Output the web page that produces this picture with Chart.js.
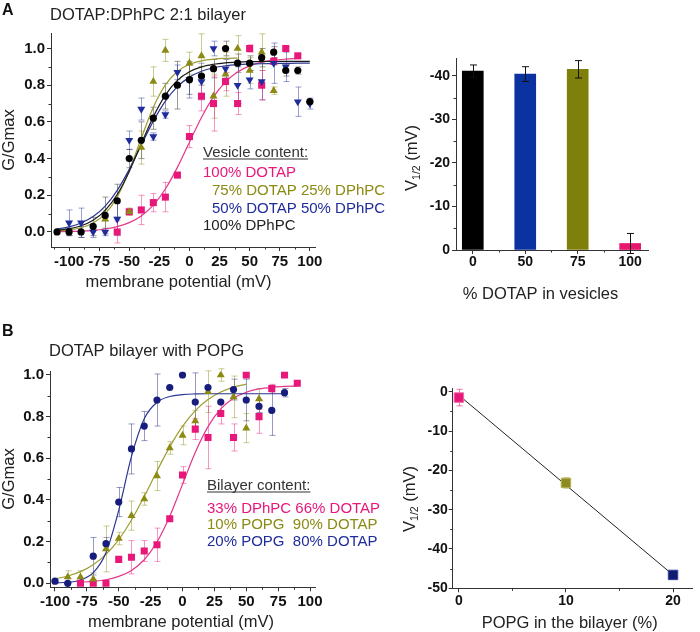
<!DOCTYPE html>
<html>
<head>
<meta charset="utf-8">
<script src="https://cdn.jsdelivr.net/npm/chart.js@4.4.1/dist/chart.umd.min.js"></script>
<style>
  html, body { margin: 0; padding: 0; background: #fff; }
  #wrap { position: relative; width: 700px; height: 632px; overflow: hidden; }
  #wrap canvas { position: absolute; left: 0; top: 0; }
</style>
</head>
<body>
<div id="wrap">
  <canvas id="aCurve" width="700" height="632"></canvas>
  <canvas id="aBar" width="700" height="632"></canvas>
  <canvas id="bCurve" width="700" height="632"></canvas>
  <canvas id="bLine" width="700" height="632"></canvas>
</div>
<script>
// ---- panel A, conductance vs voltage ----
const voltsA = [-110,-100,-90,-80,-70,-60,-50,-40,-30,-20,-10,0,10,20,30,40,50,60,70,80,90,100];
const dphpcA      = [0.00,0.00,0.00,0.03,0.09,0.17,0.40,0.50,0.62,0.74,0.80,0.83,0.85,0.89,1.00,0.92,0.92,0.95,0.98,0.88,0.88,0.71];
const dphpcErrA   = [0.01,0.02,0.03,0.05,0.10,0.09,0.05,0.10,0.06,0.07,0.13,0.08,0.05,0.05,0.04,0.05,0.04,0.05,0.03,0.03,0.02,0.01];
const dotap50A    = [null,0.05,0.05,0.00,0.00,0.07,0.50,0.67,0.52,0.64,0.87,0.83,0.82,1.00,0.89,0.80,0.83,0.82,0.92,0.90,0.71,0.70];
const dotap50ErrA = [0,0.07,0.08,0.03,0.02,0.09,0.05,0.06,0.02,0.02,0.04,0.10,0.10,0.04,0.05,0.10,0.05,0.10,0.11,0.08,0.08,0.03];
const dotap75A    = [null,null,null,null,0.07,null,0.11,0.46,0.82,0.99,null,0.92,0.96,0.74,0.86,1.00,0.88,0.98,0.77,null,null,null];
const dotap75ErrA = [0,0,0,0,0.05,0,0.02,0.09,0.08,0.06,0,0.06,0.12,0.12,0.12,0.07,0.07,0.10,0.02,0,0,0];
const dotap100A   = [null,null,null,null,null,0.00,0.11,0.12,0.16,0.19,0.31,0.52,0.74,0.70,0.82,0.70,1.00,0.80,0.93,1.00,0.96,null];
const dotap100ErrA= [0,0,0,0,0,0.06,0.01,0.08,0.05,0.08,0.01,0.06,0.08,0.15,0.05,0.06,0.02,0.08,0.02,0.01,0.01,0];
// fitted Boltzmann curves
const fitDphpcA = [0.009,0.018,0.034,0.064,0.118,0.204,0.330,0.481,0.628,0.746,0.826,0.873,0.900,0.914,0.922,0.926,0.928,0.929,0.930,0.930,0.930,0.930];
const fit50A    = [0.016,0.028,0.049,0.084,0.141,0.227,0.341,0.474,0.604,0.713,0.792,0.844,0.876,0.895,0.906,0.912,0.915,0.917,0.918,0.919,0.920,0.920];
const fit75A    = [0.005,0.011,0.023,0.049,0.099,0.190,0.333,0.512,0.680,0.802,0.875,0.914,0.933,0.942,0.946,0.948,null,null,null,null,null,null];
const fit100A   = [0.002,0.003,0.005,0.009,0.016,0.029,0.051,0.087,0.146,0.234,0.352,0.489,0.624,0.736,0.818,0.872,0.905,0.925,0.936,0.942,0.946,null];

// ---- panel A, V1/2 bars ----
const dotapPct = ['0', '50', '75', '100'];
const v12Mean = [-41.1, -40.4, -41.5, -1.5];
const v12Err = [1.4, 1.7, 2.0, 2.3];

// ---- panel B, conductance vs voltage ----
const voltsB = [-100,-90,-80,-70,-60,-50,-40,-30,-20,-10,0,10,20,30,40,50,60,70,80,90];
const popg20B    = [0.01,0.00,null,0.13,0.19,0.39,0.645,0.755,0.88,0.94,1.00,0.87,0.94,0.87,0.93,0.88,0.85,0.83,0.915,null];
const popg20ErrB = [0.01,0,0,0.09,0.03,0.07,0.12,0.07,0.125,0,0,0.14,0,0,0.05,0.10,0.03,0.12,0.02,0];
const popg10B    = [null,0.03,0.03,0.02,0.165,0.215,0.325,0.405,0.515,0.65,0.71,0.78,0.92,1.00,0.895,0.745,0.885,null,null,null];
const popg10ErrB = [0,0.03,0.03,0.03,0.11,0.03,0.07,0.03,0.07,0.03,0.045,0.05,0.10,0.03,0.10,0.07,0.05,0,0,0];
const dotapB     = [null,null,0.00,0.00,0.00,0.115,0.125,0.155,0.185,0.31,0.52,0.74,0.70,0.815,0.70,1.00,0.80,0.935,1.00,0.96];
const dotapErrB  = [0,0,0,0,0,0,0.08,0.05,0.08,0,0.04,0.05,0.15,0.05,0.065,0,0.08,0.02,0,0];
const fitPopg20B = [0.002,0.005,0.016,0.051,0.147,0.350,0.609,0.790,0.869,0.897,0.906,0.909,0.910,0.910,0.910,0.910,0.910,0.910,0.910,null];
const fitPopg10B = [0.021,0.035,0.056,0.089,0.139,0.210,0.304,0.417,0.539,0.655,0.753,0.829,0.882,0.918,0.942,0.956,null,null,null,null];
const fitDotapB  = [null,null,0.005,0.009,0.017,0.033,0.062,0.113,0.198,0.322,0.475,0.628,0.752,0.837,0.888,0.917,0.933,0.941,0.945,0.948];

// ---- panel B, V1/2 vs POPG ----
const popgPct = [0, 10, 20];
const v12Popg = [-1.5, -23.2, -46.6];
const v12PopgErr = [2.1, 1.3, 1.0];
const popgFitX = [0, 20];
const popgFitY = [-0.9, -46.6];

const FONT = '"Liberation Sans", Arial, sans-serif';
const F16 = '16.5px ' + FONT;
const F15 = '15px ' + FONT;
const MAG = '#e8177a', OLV = '#8b8a12', BLU = '#1f2c9c', NAVY = '#161d7c';

function pick(xs, ys, es) {
  const d = [], e = [];
  xs.forEach((x, i) => {
    if (ys[i] !== null) { d.push({x: x, y: ys[i]}); e.push(es ? es[i] : 0); }
  });
  return {d, e};
}

// small ticks half way between the labelled ones
const minorTicks = {
  id: 'minorTicks',
  afterDraw(chart) {
    const ctx = chart.ctx;
    ctx.save();
    ctx.strokeStyle = '#333';
    ctx.lineWidth = 1;
    Object.values(chart.scales).forEach(s => {
      const v = s.ticks.map(t => t.value);
      if (v.length < 2) return;
      const step = v[1] - v[0];
      const lo = Math.min(s.min, s.max), hi = Math.max(s.min, s.max);
      for (let i = -1; i < v.length; i++) {
        const m = v[0] + (i + 0.5) * step;
        if (m < lo || m > hi) continue;
        const p = Math.round(s.getPixelForValue(m)) + 0.5;
        ctx.beginPath();
        if (s.isHorizontal()) { ctx.moveTo(p, s.top); ctx.lineTo(p, s.top + 2.5); }
        else { ctx.moveTo(s.right, p); ctx.lineTo(s.right - 2.5, p); }
        ctx.stroke();
      }
    });
    ctx.restore();
  }
};

function errorBars(behind) {
  const draw = (chart) => {
    const ctx = chart.ctx;
    chart.data.datasets.forEach((ds, i) => {
      if (!ds.err) return;
      const meta = chart.getDatasetMeta(i);
      const ys = chart.scales[meta.yAxisID];
      ctx.save();
      ctx.lineWidth = 1;
      meta.data.forEach((el, j) => {
        const e = ds.err[j];
        if (!e) return;
        const raw = ds.data[j];
        const v = typeof raw === 'object' ? raw.y : raw;
        const y1 = ys.getPixelForValue(v - e), y2 = ys.getPixelForValue(v + e);
        const x = Math.round(el.x) + 0.5;
        const c = ds.capWidth || 3;
        ctx.strokeStyle = Array.isArray(ds.errColor) ? ds.errColor[j] : ds.errColor;
        ctx.beginPath();
        ctx.moveTo(x, y1); ctx.lineTo(x, y2);
        ctx.moveTo(x - c, y1); ctx.lineTo(x + c, y1);
        ctx.moveTo(x - c, y2); ctx.lineTo(x + c, y2);
        ctx.stroke();
      });
      ctx.restore();
    });
  };
  return behind ? {id: 'errorBars', beforeDatasetsDraw: draw} : {id: 'errorBars', afterDatasetsDraw: draw};
}

// free text: titles, panel letters, legends, axis titles
function notes(items) {
  return {
    id: 'notes',
    afterDraw(chart) {
      const ctx = chart.ctx;
      items.forEach(it => {
        ctx.save();
        ctx.fillStyle = it.color || '#222';
        ctx.textBaseline = 'alphabetic';
        ctx.textAlign = 'left';
        ctx.translate(it.x, it.y);
        if (it.rotate) ctx.rotate(-Math.PI / 2);
        const parts = it.parts || [{text: it.text}];
        let w = 0;
        parts.forEach(p => { ctx.font = p.font || it.font; p.w = ctx.measureText(p.text).width; w += p.w; });
        let cx = it.center ? -w / 2 : 0;
        const x0 = cx;
        parts.forEach(p => { ctx.font = p.font || it.font; ctx.fillText(p.text, cx, p.dy || 0); cx += p.w; });
        if (it.underline) ctx.fillRect(x0, 2, w, 1);
        ctx.restore();
      });
    }
  };
}

function scale(o) {
  return {
    type: 'linear', min: o.min, max: o.max, reverse: !!o.reverse, offset: false,
    afterFit: o.horizontal ? (s) => { s.height = 40; } : (s) => { s.width = o.w; },
    border: {display: true, color: '#333', width: 1},
    grid: {display: true, offset: false, drawOnChartArea: false, drawTicks: true, tickLength: 4, tickColor: '#333', tickWidth: 1},
    ticks: {
      stepSize: o.step, includeBounds: false, autoSkip: false, maxRotation: 0,
      color: '#111', padding: o.pad,
      font: {family: FONT, size: o.size, weight: 'bold', lineHeight: 1},
      callback: o.cb || ((v) => String(v))
    }
  };
}

const base = {
  responsive: false,
  animation: false,
  events: [],
  plugins: {legend: {display: false}, tooltip: {enabled: false}}
};

function pointSet(xs, ys, es, style, color, errColor, radius, rot) {
  const p = pick(xs, ys, es);
  return {
    type: 'scatter', data: p.d, err: p.e, errColor: errColor,
    pointStyle: style, pointRadius: radius, pointRotation: rot || 0,
    backgroundColor: color, borderColor: color, borderWidth: 0, order: 0
  };
}
function fitSet(xs, ys, color) {
  return {
    type: 'line', data: pick(xs, ys).d, borderColor: color, borderWidth: 1.2,
    pointRadius: 0, fill: false, cubicInterpolationMode: 'monotone', order: 1
  };
}

// ---------- A: G/Gmax ----------
new Chart(document.getElementById('aCurve'), {
  type: 'scatter',
  data: {
    datasets: [
      pointSet(voltsA, dphpcA, dphpcErrA, 'circle', '#000', 'rgba(70,70,70,0.55)', 3.6),
      pointSet(voltsA, dotap50A, dotap50ErrA, 'triangle', BLU, 'rgba(31,44,156,0.45)', 4.6, 180),
      pointSet(voltsA, dotap75A, dotap75ErrA, 'triangle', OLV, 'rgba(139,138,18,0.45)', 4.6),
      pointSet(voltsA, dotap100A, dotap100ErrA, 'rect', MAG, 'rgba(232,23,122,0.45)', 5),
      fitSet(voltsA, fitDphpcA, '#1a1a1a'),
      fitSet(voltsA, fit50A, '#2b3590'),
      fitSet(voltsA, fit75A, '#9d9c35'),
      fitSet(voltsA, fit100A, '#e2378a')
    ]
  },
  options: Object.assign({}, base, {
    layout: {padding: {left: 0, top: 33, right: 385, bottom: 345}},
    scales: {
      x: scale({min: -115, max: 104.3, step: 25, size: 15, pad: 3, horizontal: true}),
      y: scale({min: -0.082, max: 1.0845, step: 0.2, size: 15, pad: 2, w: 51, cb: (v) => v.toFixed(1)})
    }
  }),
  plugins: [minorTicks, errorBars(true), notes([
    {text: 'A', x: 2, y: 15, font: 'bold 16px ' + FONT, color: '#111'},
    {text: 'DOTAP:DPhPC 2:1 bilayer', x: 50, y: 20, font: F16},
    {text: 'G/Gmax', x: 13.5, y: 140, rotate: true, center: true, font: F16},
    {text: 'membrane potential (mV)', x: 178.5, y: 287, center: true, font: F16},
    {text: 'Vesicle content:', x: 203, y: 156.5, font: F15, color: '#333', underline: true},
    {text: '100% DOTAP', x: 203, y: 177, font: F15, color: MAG},
    {text: '75% DOTAP 25% DPhPC', x: 212, y: 195, font: F15, color: OLV},
    {text: '50% DOTAP 50% DPhPC', x: 212, y: 213, font: F15, color: BLU},
    {text: '100% DPhPC', x: 203, y: 229.5, font: F15, color: '#222'}
  ])]
});

// ---------- A: V1/2 bars ----------
new Chart(document.getElementById('aBar'), {
  type: 'bar',
  data: {
    datasets: [{
      data: dotapPct.map((p, i) => ({x: i, y: v12Mean[i]})),
      backgroundColor: ['#000000', '#0a32a0', '#7f7f0c', '#e8186f'],
      barThickness: 21,
      err: v12Err, errColor: '#111', capWidth: 3.5
    }]
  },
  options: Object.assign({}, base, {
    layout: {padding: {left: 380, top: 58, right: 52, bottom: 342}},
    scales: {
      x: scale({min: -0.32, max: 3.34, step: 1, size: 14, pad: 1, horizontal: true, cb: (v) => dotapPct[v]}),
      y: scale({min: -44.1, max: 0, step: 10, size: 14, pad: 2, w: 76, reverse: true})
    }
  }),
  plugins: [minorTicks, errorBars(false), notes([
    {x: 417, y: 158, rotate: true, center: true, font: F16,
     parts: [{text: 'V'}, {text: '1/2', font: '10.5px ' + FONT, dy: 3}, {text: ' (mV)'}]},
    {text: '% DOTAP in vesicles', x: 540.5, y: 298.5, center: true, font: F16}
  ])]
});

// ---------- B: G/Gmax ----------
new Chart(document.getElementById('bCurve'), {
  type: 'scatter',
  data: {
    datasets: [
      pointSet(voltsB, popg20B, popg20ErrB, 'circle', NAVY, 'rgba(22,29,124,0.45)', 3.6),
      pointSet(voltsB, popg10B, popg10ErrB, 'triangle', OLV, 'rgba(139,138,18,0.45)', 4.6),
      pointSet(voltsB, dotapB, dotapErrB, 'rect', MAG, 'rgba(232,23,122,0.45)', 5),
      fitSet(voltsB, fitPopg20B, '#2b3590'),
      fitSet(voltsB, fitPopg10B, '#9d9c35'),
      fitSet(voltsB, fitDotapB, '#e2378a')
    ]
  },
  options: Object.assign({}, base, {
    layout: {padding: {left: 0, top: 371.5, right: 385, bottom: 4.7}},
    scales: {
      x: scale({min: -103.9, max: 103.9, step: 25, size: 15, pad: 3, horizontal: true}),
      y: scale({min: -0.0192, max: 1.0168, step: 0.2, size: 15, pad: 2, w: 50, cb: (v) => v.toFixed(1)})
    }
  }),
  plugins: [minorTicks, errorBars(true), notes([
    {text: 'B', x: 2, y: 336, font: 'bold 16px ' + FONT, color: '#111'},
    {text: 'DOTAP bilayer with POPG', x: 49, y: 356, font: F16},
    {text: 'G/Gmax', x: 13.5, y: 479, rotate: true, center: true, font: F16},
    {text: 'membrane potential (mV)', x: 181, y: 627, center: true, font: F16},
    {text: 'Bilayer content:', x: 207, y: 489.5, font: F15, color: '#333', underline: true},
    {text: '33% DPhPC 66% DOTAP', x: 207, y: 512.7, font: F15, color: MAG},
    {text: '10% POPG  90% DOTAP', x: 207, y: 529.3, font: F15, color: OLV},
    {text: '20% POPG  80% DOTAP', x: 207, y: 546, font: F15, color: BLU}
  ])]
});

// ---------- B: V1/2 vs POPG ----------
new Chart(document.getElementById('bLine'), {
  type: 'scatter',
  data: {
    datasets: [
      {
        type: 'scatter',
        data: popgPct.map((p, i) => ({x: p, y: v12Popg[i]})),
        err: v12PopgErr,
        errColor: ['rgba(232,23,122,0.6)', 'rgba(139,138,18,0.6)', 'rgba(22,29,124,0.6)'],
        pointStyle: 'rect', pointRadius: 6.7,
        backgroundColor: [MAG, '#8d8c22', '#0f1a70'],
        borderColor: ['#f06aa6', '#b5b45a', '#3a4596'], borderWidth: 1, order: 0
      },
      {
        type: 'line', data: pick(popgFitX, popgFitY).d,
        borderColor: '#222', borderWidth: 1, pointRadius: 0, fill: false, order: 1
      }
    ]
  },
  options: Object.assign({}, base, {
    layout: {padding: {left: 380, top: 388.3, right: 2, bottom: 3.7}},
    scales: {
      x: scale({min: -0.575, max: 21.8, step: 10, size: 14, pad: 2, horizontal: true}),
      y: scale({min: -50, max: 0.86, step: 10, size: 14, pad: 1, w: 72.7})
    }
  }),
  plugins: [minorTicks, errorBars(true), notes([
    {x: 415, y: 499, rotate: true, center: true, font: F16,
     parts: [{text: 'V'}, {text: '1/2', font: '10.5px ' + FONT, dy: 3}, {text: ' (mV)'}]},
    {text: 'POPG in the bilayer (%)', x: 569.7, y: 627.7, center: true, font: F16}
  ])]
});
</script>
</body>
</html>
